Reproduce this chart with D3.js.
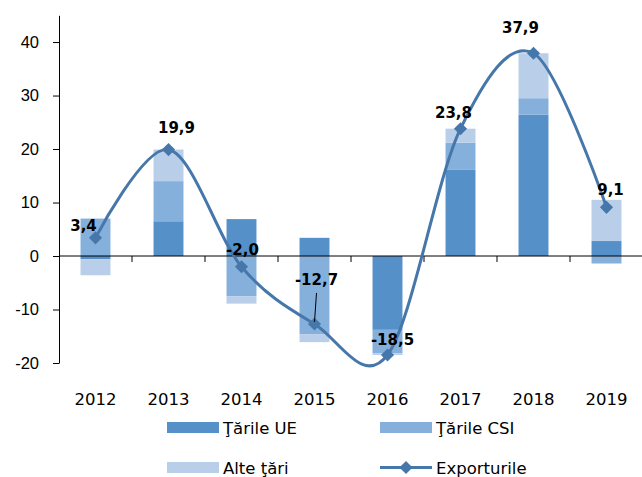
<!DOCTYPE html>
<html>
<head>
<meta charset="utf-8">
<script src="https://cdn.jsdelivr.net/npm/d3@7"></script>
<style>
  body { margin: 0; background: #fff; }
  svg { display: block; font-family: "DejaVu Sans", sans-serif; }
  .axis text { font-size: 16.5px; fill: #000; }
  .axis path, .axis line { stroke: #000; }
  .val-label { font-size: 15px; font-weight: bold; fill: #000; text-anchor: middle; }
  .legend text { font-size: 16.5px; fill: #000; }
</style>
</head>
<body>
<svg id="chart" width="642" height="477"></svg>
<script>
// date
const years = ['2012', '2013', '2014', '2015', '2016', '2017', '2018', '2019'];
const tarileUE = [-0.6, 6.5, 6.9, 3.4, -13.8, 16.1, 26.4, 2.8];
const tarileCSI = [7.0, 7.5, -7.5, -14.6, -4.4, 5.1, 3.1, -1.4];
const alteTari = [-3.0, 5.9, -1.4, -1.5, -0.3, 2.6, 8.4, 7.7];
const exporturile = [3.4, 19.9, -2.0, -12.7, -18.5, 23.8, 37.9, 9.1];
const yTicks = [-20, -10, 0, 10, 20, 30, 40];

const seriesNames = ['Ţările UE', 'Ţările CSI', 'Alte ţări'];
const seriesColors = ['#5690c8', '#86b0dc', '#b8cee9'];
const lineColor = '#4677aa';

// pozitia etichetelor fata de marker (dx, dy)
const labelOffsets = [[-12, -7], [8, -17], [1, -12], [2, -39], [5, -10], [-7, -11], [-13, -20], [4, -12]];

const svg = d3.select('#chart');
const plotLeft = 59, plotRight = 643, plotTop = 15.3, plotBottom = 363;

const x = d3.scaleBand()
    .domain(years)
    .range([plotLeft, plotRight])
    .paddingInner(0.59)
    .paddingOuter(0.295);
const step = x.step();

const y = d3.scaleLinear()
    .domain([-20, 45])
    .range([plotBottom, plotTop]);

// bare stivuite, pozitive in sus si negative in jos
const series = [tarileUE, tarileCSI, alteTari];
const stacks = years.map(() => ({ pos: 0, neg: 0 }));
const rects = [];
series.forEach((vals, si) => {
    vals.forEach((v, i) => {
        const s = stacks[i];
        let y0, y1;
        if (v >= 0) { y0 = s.pos; y1 = s.pos + v; s.pos = y1; }
        else { y0 = s.neg; y1 = s.neg + v; s.neg = y1; }
        rects.push({ year: years[i], y0, y1, color: seriesColors[si] });
    });
});

svg.append('g').selectAll('rect')
    .data(rects)
    .enter()
    .append('rect')
    .attr('x', d => x(d.year))
    .attr('width', x.bandwidth())
    .attr('y', d => y(Math.max(d.y0, d.y1)))
    .attr('height', d => Math.abs(y(d.y0) - y(d.y1)))
    .attr('fill', d => d.color);

// axa Y
const yAxis = d3.axisLeft(y)
    .tickValues(yTicks)
    .tickFormat(d => String(d))
    .tickSize(6)
    .tickSizeOuter(0)
    .tickPadding(14);
svg.append('g')
    .attr('class', 'axis')
    .attr('transform', `translate(${plotLeft},0)`)
    .call(yAxis);

// axa X pe linia zero
const xg = svg.append('g').attr('class', 'axis');
xg.append('line')
    .attr('x1', plotLeft).attr('x2', 642)
    .attr('y1', y(0)).attr('y2', y(0));
xg.selectAll('.xtick')
    .data(years.slice(1))
    .enter()
    .append('line')
    .attr('x1', d => x(d) - (step - x.bandwidth()) / 2)
    .attr('x2', d => x(d) - (step - x.bandwidth()) / 2)
    .attr('y1', y(0))
    .attr('y2', y(0) + 6);
xg.selectAll('.xlabel')
    .data(years)
    .enter()
    .append('text')
    .attr('x', d => x(d) + x.bandwidth() / 2)
    .attr('y', 405)
    .attr('text-anchor', 'middle')
    .text(d => d);

// linia netezita
const pts = years.map((yr, i) => [x(yr) + x.bandwidth() / 2, y(exporturile[i])]);
const line = d3.line().curve(d3.curveCardinal.tension(0));
svg.append('path')
    .attr('d', line(pts))
    .attr('fill', 'none')
    .attr('stroke', lineColor)
    .attr('stroke-width', 3);

const diamond = d3.symbol().type(d3.symbolDiamond2).size(110);
svg.append('g').selectAll('path')
    .data(pts)
    .enter()
    .append('path')
    .attr('d', diamond)
    .attr('transform', d => `translate(${d[0]},${d[1]})`)
    .attr('fill', lineColor);

// linie de legatura pentru 2015
const i15 = years.indexOf('2015');
svg.append('line')
    .attr('x1', pts[i15][0] + 2).attr('y1', pts[i15][1] - 31)
    .attr('x2', pts[i15][0]).attr('y2', pts[i15][1] - 2)
    .attr('stroke', '#000')
    .attr('stroke-width', 1);

svg.append('g').selectAll('text')
    .data(pts)
    .enter()
    .append('text')
    .attr('class', 'val-label')
    .attr('x', (d, i) => d[0] + labelOffsets[i][0])
    .attr('y', (d, i) => d[1] + labelOffsets[i][1])
    .text((d, i) => exporturile[i].toFixed(1).replace('.', ','));

// legenda
const legend = svg.append('g').attr('class', 'legend');
const legendItems = [
    { name: seriesNames[0], color: seriesColors[0], x: 167, y: 422 },
    { name: seriesNames[1], color: seriesColors[1], x: 380, y: 422 },
    { name: seriesNames[2], color: seriesColors[2], x: 167, y: 462 }
];
legendItems.forEach(it => {
    legend.append('rect')
        .attr('x', it.x).attr('y', it.y)
        .attr('width', 52).attr('height', 11)
        .attr('fill', it.color);
    legend.append('text')
        .attr('x', it.x + 56).attr('y', it.y + 11.5)
        .text(it.name);
});
legend.append('line')
    .attr('x1', 380).attr('x2', 432)
    .attr('y1', 467.5).attr('y2', 467.5)
    .attr('stroke', lineColor).attr('stroke-width', 3);
legend.append('path')
    .attr('d', diamond)
    .attr('transform', 'translate(406,467.5)')
    .attr('fill', lineColor);
legend.append('text')
    .attr('x', 436).attr('y', 473.5)
    .text('Exporturile');
</script>
</body>
</html>
